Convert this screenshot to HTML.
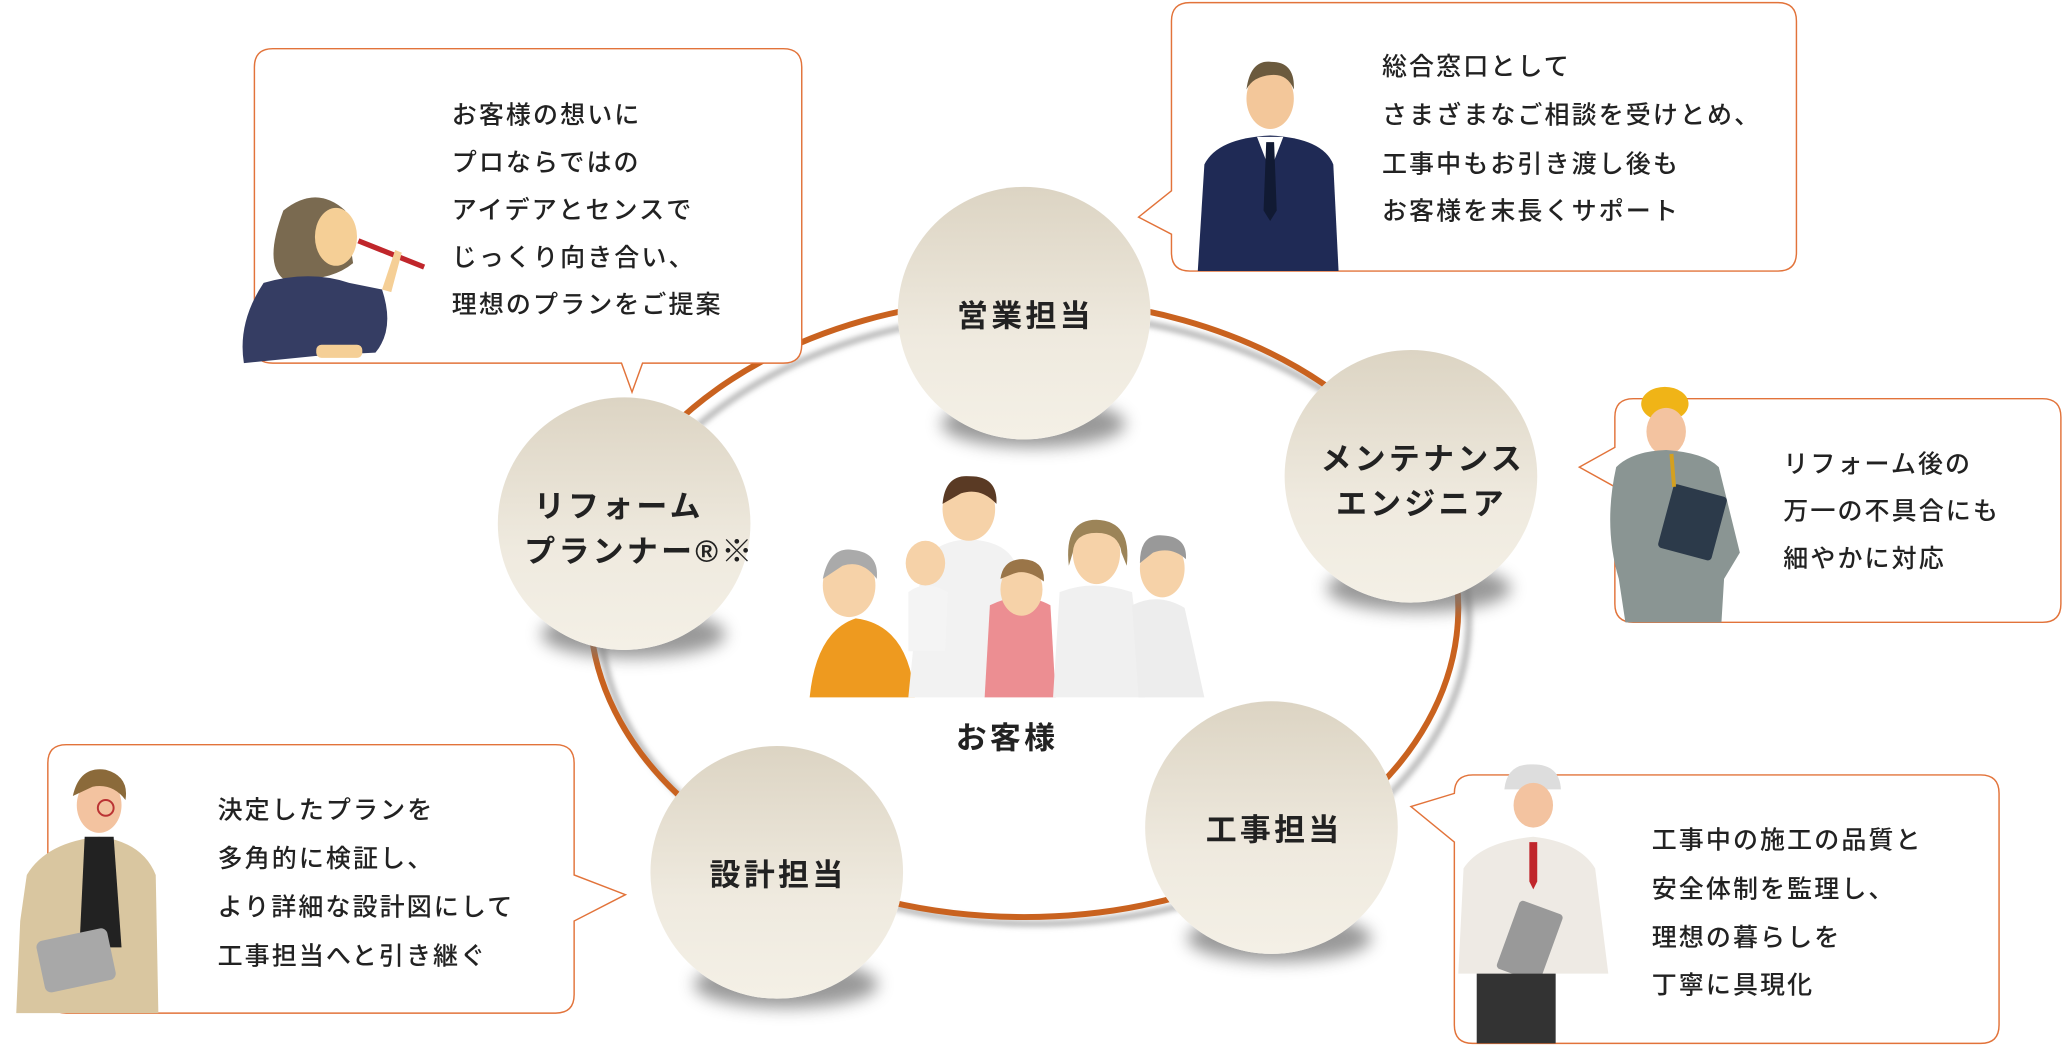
<!DOCTYPE html>
<html><head><meta charset="utf-8"><style>
html,body{margin:0;padding:0;background:#fff;width:2064px;height:1046px;overflow:hidden}
svg{display:block}
text{font-family:"Liberation Sans","Noto Sans CJK JP",sans-serif}
.t{font-size:19px;font-weight:500;fill:#222;letter-spacing:1.6px}
.c{font-size:23.5px;font-weight:700;fill:#222;letter-spacing:2.5px}
</style></head><body>
<svg width="2064" height="1046" viewBox="0 0 1568 795" xmlns="http://www.w3.org/2000/svg">
<defs>
<linearGradient id="cg" x1="0" y1="0" x2="0" y2="1">
<stop offset="0" stop-color="#dcd4c3"/><stop offset="0.6" stop-color="#efeadf"/><stop offset="1" stop-color="#f4f0e6"/></linearGradient>
<filter id="bl" x="-50%" y="-50%" width="200%" height="200%"><feGaussianBlur stdDeviation="6"/></filter>
<filter id="bl2" x="-20%" y="-20%" width="140%" height="140%"><feGaussianBlur stdDeviation="2"/></filter>
</defs>

<ellipse cx="786" cy="470" rx="330" ry="232" fill="none" stroke="#bbb" stroke-width="5" filter="url(#bl2)"/>
<ellipse cx="778" cy="462" rx="330" ry="235" fill="none" stroke="#c9621f" stroke-width="4.5"/>

<g fill="#fff" stroke="#e2733a" stroke-width="1.1">
<path d="M207,37 H595 Q609,37 609,51 V262 Q609,276 595,276 H488 L480,298 L472,276 H207 Q193,276 193,262 V51 Q193,37 207,37 Z"/>
<path d="M904,2 H1351 Q1365,2 1365,16 V192 Q1365,206 1351,206 H904 Q890,206 890,192 V178 L865,165 L890,145 V16 Q890,2 904,2 Z"/>
<path d="M1241,303 H1552 Q1566,303 1566,317 V459 Q1566,473 1552,473 H1241 Q1227,473 1227,459 V370 L1200,355 L1227,340 V317 Q1227,303 1241,303 Z"/>
<path d="M50,566 H422 Q436,566 436,580 V665 L475,680 L436,700 V756 Q436,770 422,770 H50 Q36,770 36,756 V580 Q36,566 50,566 Z"/>
<path d="M1119,589 H1505 Q1519,589 1519,603 V779 Q1519,793 1505,793 H1119 Q1105,793 1105,779 V640 L1072,613 L1105,603 Q1105,589 1119,589 Z"/>
</g>

<g class="t">
<text x="343" y="94">お客様の想いに</text>
<text x="343" y="130">プロならではの</text>
<text x="343" y="166">アイデアとセンスで</text>
<text x="343" y="202">じっくり向き合い、</text>
<text x="343" y="238">理想のプランをご提案</text>
<text x="1050" y="57">総合窓口として</text>
<text x="1050" y="94">さまざまなご相談を受けとめ、</text>
<text x="1050" y="131">工事中もお引き渡し後も</text>
<text x="1050" y="167">お客様を末長くサポート</text>
<text x="1355" y="359">リフォーム後の</text>
<text x="1355" y="395">万一の不具合にも</text>
<text x="1355" y="431">細やかに対応</text>
<text x="165" y="622">決定したプランを</text>
<text x="165" y="659">多角的に検証し、</text>
<text x="165" y="696">より詳細な設計図にして</text>
<text x="165" y="733">工事担当へと引き継ぐ</text>
<text x="1255" y="645">工事中の施工の品質と</text>
<text x="1255" y="682">安全体制を監理し、</text>
<text x="1255" y="719">理想の暮らしを</text>
<text x="1255" y="755">丁寧に具現化</text>
</g>

<g>
<path d="M215,160 Q240,140 262,160 L268,200 Q250,215 215,212 Q200,200 215,160Z" fill="#7a6a50"/>
<ellipse cx="255" cy="180" rx="16" ry="22" fill="#f5cf96"/>
<path d="M200,215 Q235,205 265,215 L290,220 Q300,250 285,268 L245,270 L185,276 Q180,245 200,215Z" fill="#353d63"/>
<rect x="240" y="262" width="35" height="10" rx="4" fill="#f5cf96"/>
<line x1="272" y1="183" x2="322" y2="203" stroke="#c0262b" stroke-width="4"/>
<path d="M290,220 L300,190 L305,192 L297,222Z" fill="#f5cf96"/>
</g>

<g>
<ellipse cx="965" cy="75" rx="18" ry="23" fill="#f3c79a"/>
<path d="M947,68 Q950,45 966,47 Q984,47 983,68 Q978,56 966,57 Q952,58 947,68Z" fill="#6b5a3e"/>
<path d="M915,125 Q925,105 965,103 Q1005,105 1013,125 L1017,206 H910Z" fill="#1f2a55"/>
<path d="M955,104 L965,130 L975,104Z" fill="#fff"/>
<path d="M962,108 L968,108 L970,160 L965,168 L960,160Z" fill="#111a33"/>
</g>

<g>
<ellipse cx="1265" cy="307" rx="18" ry="13" fill="#f0b417"/>
<ellipse cx="1266" cy="328" rx="15" ry="18" fill="#f3c3a0"/>
<path d="M1228,355 Q1240,343 1266,342 Q1295,344 1306,355 L1322,420 L1310,440 L1308,473 H1235 L1230,440 Q1218,400 1228,355Z" fill="#8a9593"/>
<rect x="1265" y="372" width="42" height="50" rx="3" fill="#2c3a4a" transform="rotate(15 1286 397)"/>
<line x1="1270" y1="345" x2="1272" y2="370" stroke="#d4a020" stroke-width="3"/>
</g>

<g>
<ellipse cx="75" cy="612" rx="17" ry="21" fill="#f3c3a0"/>
<path d="M55,605 Q60,582 80,585 Q98,590 95,608 Q85,595 70,598Z" fill="#8b6a3a"/>
<circle cx="80" cy="614" r="6" fill="none" stroke="#b33" stroke-width="1.5"/>
<path d="M20,665 Q35,640 75,636 Q108,640 118,665 L120,770 H12 L15,700Z" fill="#d9c6a0"/>
<path d="M64,636 H86 L92,720 H60Z" fill="#222"/>
<rect x="30" y="710" width="55" height="40" rx="5" fill="#a8a8a8" transform="rotate(-12 57 730)"/>
</g>

<g>
<path d="M1143,600 Q1145,580 1165,581 Q1185,581 1186,600 Z" fill="#ddd"/>
<ellipse cx="1165" cy="612" rx="15" ry="17" fill="#f3c3a0"/>
<path d="M1112,660 Q1125,640 1165,636 Q1200,640 1212,660 L1222,740 H1108Z" fill="#eeeae4"/>
<path d="M1162,640 L1168,640 L1168,670 L1165,676 L1162,670Z" fill="#c0262b"/>
<rect x="1145" y="688" width="35" height="55" rx="3" fill="#999" transform="rotate(20 1162 715)"/>
<rect x="1122" y="740" width="60" height="53" fill="#333"/>
</g>

<g fill="#777" opacity="0.75" filter="url(#bl)">
<ellipse cx="785" cy="322" rx="70" ry="18"/>
<ellipse cx="1078" cy="447" rx="70" ry="18"/>
<ellipse cx="972" cy="713" rx="70" ry="18"/>
<ellipse cx="597" cy="748" rx="70" ry="18"/>
<ellipse cx="481" cy="482" rx="70" ry="18"/>
</g>
<g fill="#fff">
<circle cx="778" cy="238" r="96"/><circle cx="1072" cy="362" r="96"/><circle cx="966" cy="629" r="96"/><circle cx="590" cy="663" r="96"/><circle cx="474" cy="398" r="96"/>
</g>
<g fill="url(#cg)">
<circle cx="778" cy="238" r="96"/><circle cx="1072" cy="362" r="96"/><circle cx="966" cy="629" r="96"/><circle cx="590" cy="663" r="96"/><circle cx="474" cy="398" r="96"/>
</g>
<g class="c" text-anchor="middle">
<text x="779" y="248">営業担当</text>
<text x="1081" y="357">メンテナンス</text>
<text x="1080" y="391">エンジニア</text>
<text x="968" y="639">工事担当</text>
<text x="591" y="673">設計担当</text>
<text x="470" y="393">リフォーム</text>
<text x="486" y="427">プランナー®※</text>
</g>

<g>
<path d="M615,530 Q620,480 650,470 Q690,475 695,530Z" fill="#ee9a1f"/>
<ellipse cx="645" cy="445" rx="20" ry="24" fill="#f6d2a8"/>
<path d="M625,440 Q630,415 648,418 Q668,420 666,440 Q655,425 640,430Z" fill="#aaa"/>
<path d="M700,430 Q710,410 738,410 Q766,412 772,430 L780,530 H690Z" fill="#f2f2f2"/>
<ellipse cx="736" cy="387" rx="20" ry="24" fill="#f6d2a8"/>
<path d="M716,383 Q718,360 737,362 Q758,362 757,383 Q745,370 730,375Z" fill="#5a3a24"/>
<ellipse cx="703" cy="428" rx="15" ry="17" fill="#f6d2a8"/>
<path d="M690,450 Q703,440 720,450 L718,495 H690Z" fill="#f4f4f4"/>
<path d="M752,460 Q776,448 798,460 L802,530 H748Z" fill="#ec8e92"/>
<ellipse cx="776" cy="448" rx="16" ry="20" fill="#f6d2a8"/>
<path d="M760,440 Q762,425 777,425 Q794,426 793,442 Q780,432 770,436Z" fill="#9a7548"/>
<path d="M805,450 Q830,440 860,450 L870,530 H800Z" fill="#f0f0f0"/>
<ellipse cx="833" cy="420" rx="18" ry="24" fill="#f6d2a8"/>
<path d="M812,430 Q808,395 833,395 Q860,396 856,430 L852,420 Q850,405 833,405 Q816,405 815,420Z" fill="#9c8458"/>
<path d="M860,460 Q880,450 900,462 L915,530 H865Z" fill="#ededed"/>
<ellipse cx="883" cy="432" rx="17" ry="22" fill="#f6d2a8"/>
<path d="M866,428 Q866,405 884,407 Q902,408 901,425 Q890,415 876,420Z" fill="#999"/>
</g>
<text x="765" y="569" class="c" text-anchor="middle">お客様</text>
</svg>
</body></html>
